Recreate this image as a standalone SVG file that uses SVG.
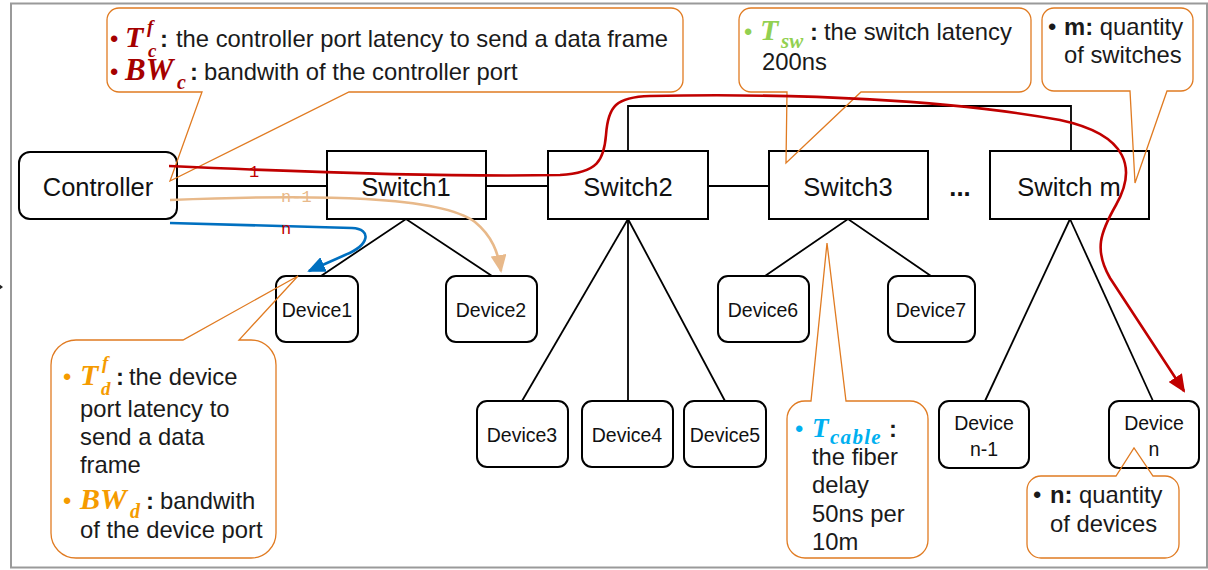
<svg xmlns="http://www.w3.org/2000/svg" width="1208" height="570" viewBox="0 0 1208 570">
  <defs>
    <style>
      .box { fill: #fff; stroke: #000; stroke-width: 2; }
      .wire { fill: none; stroke: #000; stroke-width: 1.8; }
      .lbl { font-family: "Liberation Sans", Arial, sans-serif; fill: #111; text-anchor: middle; }
      .big { font-size: 25.5px; }
      .dev { font-size: 19.5px; }
      .callout { fill: none; stroke: #E07B22; stroke-width: 1.3; }
      .ct { font-family: "Liberation Sans", Arial, sans-serif; font-size: 23.8px; fill: #1a1a1a; }
      .math { font-family: "Liberation Serif", "Times New Roman", serif; font-weight: bold; font-style: italic; }
      .flow { fill: none; stroke-width: 2.6; }
      .flowlbl { font-family: "Liberation Mono", "Courier New", monospace; font-size: 17px; }
    </style>
    <marker id="ahRed" markerWidth="18" markerHeight="16" refX="16" refY="8" orient="auto" markerUnits="userSpaceOnUse">
      <path d="M0,0 L18,8 L0,16 Z" fill="#C00000"/>
    </marker>
    <marker id="ahTan" markerWidth="18" markerHeight="16" refX="16" refY="8" orient="auto" markerUnits="userSpaceOnUse">
      <path d="M0,0 L18,8 L0,16 Z" fill="#E8B98A"/>
    </marker>
    <marker id="ahBlue" markerWidth="18" markerHeight="16" refX="16" refY="8" orient="auto" markerUnits="userSpaceOnUse">
      <path d="M0,0 L18,8 L0,16 Z" fill="#0070C0"/>
    </marker>
  </defs>

  <rect width="1208" height="570" fill="#fff"/>
  <!-- slide frame -->
  <rect x="11" y="3.5" width="1196" height="564" fill="none" stroke="#9a9a9a" stroke-width="2"/>
  <path d="M-4,282 L3,287 L-4,292 Z" fill="#222"/>

  <!-- topology links -->
  <g id="connectors">
    <line class="wire" x1="177" y1="186" x2="327" y2="186"/>
    <line class="wire" x1="486" y1="186" x2="548" y2="186"/>
    <line class="wire" x1="708" y1="186" x2="769" y2="186"/>
    <polyline class="wire" points="628,151 628,106 1071,106 1071,151"/>
    <polyline class="wire" points="321,276 406,219 492,276"/>
    <line class="wire" x1="628" y1="219" x2="522" y2="401"/>
    <line class="wire" x1="628" y1="219" x2="628" y2="401"/>
    <line class="wire" x1="628" y1="219" x2="725" y2="401"/>
    <polyline class="wire" points="765,276 848,219 931,276"/>
    <line class="wire" x1="1070" y1="219" x2="985" y2="401"/>
    <line class="wire" x1="1070" y1="219" x2="1153" y2="401"/>
  </g>

  <!-- nodes -->
  <g id="controller"><rect class="box" x="19" y="152" width="158" height="67" rx="11"/><text class="lbl big" x="98" y="196">Controller</text></g>
  <g id="switch1"><rect class="box" x="327" y="151" width="159" height="68"/><text class="lbl big" x="406" y="196">Switch1</text></g>
  <g id="switch2"><rect class="box" x="548" y="151" width="160" height="68"/><text class="lbl big" x="628" y="196">Switch2</text></g>
  <g id="switch3"><rect class="box" x="769" y="151" width="159" height="68"/><text class="lbl big" x="848" y="196">Switch3</text></g>
  <g id="ellipsis"><text class="lbl big" x="960" y="196" font-weight="bold">...</text></g>
  <g id="switchm"><rect class="box" x="990" y="151" width="159" height="68"/><text class="lbl big" x="1069" y="196">Switch m</text></g>

  <g id="device1"><rect class="box" x="276" y="276" width="82" height="66" rx="10"/><text class="lbl dev" x="317" y="317">Device1</text></g>
  <g id="device2"><rect class="box" x="446" y="276" width="91" height="66" rx="10"/><text class="lbl dev" x="491" y="317">Device2</text></g>
  <g id="device6"><rect class="box" x="718" y="276" width="91" height="66" rx="10"/><text class="lbl dev" x="763" y="317">Device6</text></g>
  <g id="device7"><rect class="box" x="888" y="276" width="87" height="66" rx="10"/><text class="lbl dev" x="931" y="317">Device7</text></g>
  <g id="device3"><rect class="box" x="477" y="401" width="91" height="66" rx="10"/><text class="lbl dev" x="522" y="442">Device3</text></g>
  <g id="device4"><rect class="box" x="582" y="401" width="91" height="66" rx="10"/><text class="lbl dev" x="627" y="442">Device4</text></g>
  <g id="device5"><rect class="box" x="684" y="401" width="82" height="66" rx="10"/><text class="lbl dev" x="725" y="442">Device5</text></g>
  <g id="device-n-1"><rect class="box" x="939" y="401" width="90" height="67" rx="10"/><text class="lbl dev" x="984" y="430">Device</text><text class="lbl dev" x="984" y="456">n-1</text></g>
  <g id="device-n"><rect class="box" x="1109" y="401" width="90" height="67" rx="10"/><text class="lbl dev" x="1154" y="430">Device</text><text class="lbl dev" x="1154" y="456">n</text></g>

  <!-- annotation balloons -->
  <g id="note-controller">
    <path class="callout" d="M119,8 H671 A12,12 0 0 1 683,20 V80 A12,12 0 0 1 671,92 H349 L170,181 L202,92 H119 A12,12 0 0 1 107,80 V20 A12,12 0 0 1 119,8 Z"/>
    <text class="ct" x="110" y="47"><tspan style="fill:#A50000">•</tspan><tspan class="math" x="125" font-size="30" fill="#A50000">T</tspan><tspan class="math" x="147" dy="-14" font-size="19" fill="#A50000">f</tspan><tspan class="math" x="148" dy="24" font-size="19" fill="#A50000">c</tspan><tspan x="160" dy="-10" font-weight="bold">:</tspan><tspan x="176">the controller port latency to send a data frame</tspan></text>
    <text class="ct" x="110" y="80"><tspan style="fill:#A50000">•</tspan><tspan class="math" x="125" font-size="31" fill="#A50000">BW</tspan><tspan class="math" x="177" dy="9" font-size="20" fill="#A50000">c</tspan><tspan x="190" dy="-9" font-weight="bold">:</tspan><tspan x="204">bandwith of the controller port</tspan></text>
  </g>

  <g id="note-switch">
    <path class="callout" d="M751,8 H1019 A12,12 0 0 1 1031,20 V80 A12,12 0 0 1 1019,92 H861 L786,163 L787,92 H751 A12,12 0 0 1 739,80 V20 A12,12 0 0 1 751,8 Z"/>
    <text class="ct" x="744" y="40"><tspan style="fill:#92D050">•</tspan><tspan class="math" x="760" font-size="30" fill="#92D050">T</tspan><tspan class="math" x="781" dy="8" font-size="21" fill="#92D050">sw</tspan><tspan x="810" dy="-8" font-weight="bold">:</tspan><tspan x="824">the switch latency</tspan></text>
    <text class="ct" x="762" y="70">200ns</text>
  </g>

  <g id="note-switch-count">
    <path class="callout" d="M1054,8 H1181 A12,12 0 0 1 1193,20 V79 A12,12 0 0 1 1181,91 H1167 L1135,183 L1130,91 H1054 A12,12 0 0 1 1042,79 V20 A12,12 0 0 1 1054,8 Z"/>
    <text class="ct" x="1048" y="35">•<tspan x="1064" font-weight="bold">m:</tspan> quantity</text>
    <text class="ct" x="1064" y="63">of switches</text>
  </g>

  <g id="note-device">
    <path class="callout" d="M76,340 H183 L298,276 L239,340 H251 A25,25 0 0 1 276,365 V533 A25,25 0 0 1 251,558 H76 A25,25 0 0 1 51,533 V365 A25,25 0 0 1 76,340 Z"/>
    <text class="ct" x="63" y="385"><tspan style="fill:#F59B00">•</tspan><tspan class="math" x="80" font-size="30" fill="#F59B00">T</tspan><tspan class="math" x="102" dy="-16" font-size="19" fill="#F59B00">f</tspan><tspan class="math" x="101" dy="26" font-size="19" fill="#F59B00">d</tspan><tspan x="116" dy="-10" font-weight="bold">:</tspan><tspan x="129">the device</tspan></text>
    <text class="ct" x="80" y="417">port latency to</text>
    <text class="ct" x="80" y="445">send a data</text>
    <text class="ct" x="80" y="473">frame</text>
    <text class="ct" x="63" y="509"><tspan style="fill:#F59B00">•</tspan><tspan class="math" x="80" font-size="30" fill="#F59B00">BW</tspan><tspan class="math" x="130" dy="9" font-size="20" fill="#F59B00">d</tspan><tspan x="146" dy="-9" font-weight="bold">:</tspan><tspan x="160">bandwith</tspan></text>
    <text class="ct" x="80" y="538">of the device port</text>
  </g>

  <g id="note-cable">
    <path class="callout" d="M805,401 H811 L827,243 L846,401 H910 A18,18 0 0 1 928,419 V540 A18,18 0 0 1 910,558 H805 A18,18 0 0 1 787,540 V419 A18,18 0 0 1 805,401 Z"/>
    <text class="ct" x="795" y="437"><tspan style="fill:#00B0F0">•</tspan><tspan class="math" x="812" font-size="27" fill="#00B0F0">T</tspan><tspan class="math" x="830" dy="7" font-size="21" fill="#00B0F0" letter-spacing="1.3">cable</tspan><tspan x="889" dy="-7" font-weight="bold">:</tspan></text>
    <text class="ct" x="812" y="465">the fiber</text>
    <text class="ct" x="812" y="493">delay</text>
    <text class="ct" x="812" y="522">50ns per</text>
    <text class="ct" x="812" y="550">10m</text>
  </g>

  <g id="note-device-count">
    <path class="callout" d="M1041,476 H1116 L1134,448 L1153,476 H1165 A14,14 0 0 1 1179,490 V544 A14,14 0 0 1 1165,558 H1041 A14,14 0 0 1 1027,544 V490 A14,14 0 0 1 1041,476 Z"/>
    <text class="ct" x="1033" y="503">•<tspan x="1050" font-weight="bold">n:</tspan> quantity</text>
    <text class="ct" x="1050" y="532">of devices</text>
  </g>

  <!-- frame flows from the controller -->
  <g id="flows">
    <text class="flowlbl" x="249" y="177" fill="#C00000">1</text>
    <text class="flowlbl" x="281" y="202" fill="#E8B98A">n-1</text>
    <path class="flow" stroke="#C00000" marker-end="url(#ahRed)" d="M169,166 C300,172 450,177 560,175 C598,173 604,160 606,135 C608,106 616,97 650,96 C800,93 950,100 1060,120 C1130,135 1136,170 1116,205 C1100,233 1094,250 1110,278 L1184,391"/>
    <path class="flow" stroke="#E8B98A" marker-end="url(#ahTan)" d="M170,200 C320,194 440,196 475,222 C492,236 498,252 501,271"/>
    <path class="flow" stroke="#0070C0" marker-end="url(#ahBlue)" d="M170,223 C250,225 330,227 352,228 C372,229 370,245 345,255 L309,271"/>
    <text class="flowlbl" x="281" y="234" fill="#C00000">n</text>
  </g>
</svg>
